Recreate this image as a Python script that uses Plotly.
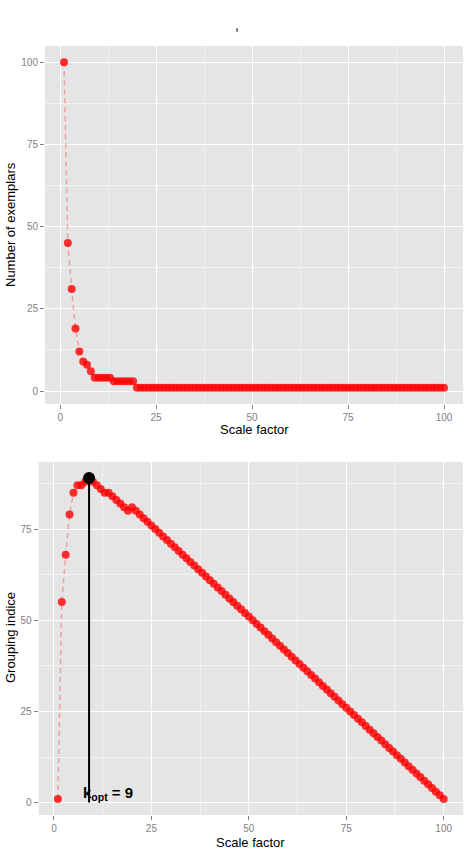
import plotly.graph_objects as go

scale_factor = list(range(1, 101))

exemplars = [100, 45, 31, 19, 12, 9, 8, 6, 4, 4, 4, 4, 4, 3, 3, 3, 3, 3, 3,
             1, 1, 1, 1, 1, 1, 1, 1, 1, 1, 1, 1, 1, 1, 1, 1, 1, 1, 1, 1,
             1, 1, 1, 1, 1, 1, 1, 1, 1, 1, 1, 1, 1, 1, 1, 1, 1, 1, 1, 1,
             1, 1, 1, 1, 1, 1, 1, 1, 1, 1, 1, 1, 1, 1, 1, 1, 1, 1, 1, 1,
             1, 1, 1, 1, 1, 1, 1, 1, 1, 1, 1, 1, 1, 1, 1, 1, 1, 1, 1, 1,
             1]

grouping = [1, 55, 68, 79, 85, 87, 87, 88, 89, 88, 87, 86, 85, 85, 84, 83, 82, 81, 80,
            81, 80, 79, 78, 77, 76, 75, 74, 73, 72, 71, 70, 69, 68, 67, 66, 65, 64, 63, 62,
            61, 60, 59, 58, 57, 56, 55, 54, 53, 52, 51, 50, 49, 48, 47, 46, 45, 44, 43, 42,
            41, 40, 39, 38, 37, 36, 35, 34, 33, 32, 31, 30, 29, 28, 27, 26, 25, 24, 23, 22,
            21, 20, 19, 18, 17, 16, 15, 14, 13, 12, 11, 10, 9, 8, 7, 6, 5, 4, 3, 2, 1]

x_ticks = [0, 25, 50, 75, 100]
y1_ticks = [0, 25, 50, 75, 100]
y2_ticks = [0, 25, 50, 75]

i_opt = grouping.index(max(grouping))
k_opt = scale_factor[i_opt]
g_opt = grouping[i_opt]

W, H = 475, 849
FONT = "Liberation Sans, Arial, sans-serif"
RED = "rgba(255,0,0,0.8)"
LINE = "rgba(255,0,0,0.3)"

fig = go.Figure()

for xa, ya, yv in (("x", "y", exemplars), ("x2", "y2", grouping)):
    fig.add_trace(go.Scatter(x=scale_factor, y=yv, mode="lines", xaxis=xa, yaxis=ya,
                             line=dict(color=LINE, width=1.5, dash="5px,4px"),
                             hoverinfo="skip", showlegend=False))
    fig.add_trace(go.Scatter(x=scale_factor, y=yv, mode="markers", xaxis=xa, yaxis=ya,
                             marker=dict(color=RED, size=8, line=dict(width=0)),
                             showlegend=False))

fig.add_trace(go.Scatter(x=[k_opt, k_opt], y=[0, g_opt], mode="lines", xaxis="x2", yaxis="y2",
                         line=dict(color="black", width=2), showlegend=False))
fig.add_trace(go.Scatter(x=[k_opt], y=[g_opt], mode="markers", xaxis="x2", yaxis="y2",
                         marker=dict(color="black", size=12), showlegend=False))


def px_x(p):
    return p / W


def px_y(p):
    return 1 - p / H


axis_common = dict(
    showgrid=True, gridcolor="white", gridwidth=1.2, zeroline=False, showline=False,
    ticks="outside", ticklen=4, tickcolor="#7F7F7F", tickwidth=1,
    tickfont=dict(family=FONT, size=10, color="#7F7F7F"),
    minor=dict(showgrid=True, gridcolor="#F2F2F2", gridwidth=0.6, dtick=12.5, tick0=0, ticks=""),
)

fig.update_layout(
    width=W, height=H,
    margin=dict(l=0, r=0, t=0, b=0),
    paper_bgcolor="white",
    plot_bgcolor="#E5E5E5",
    font=dict(family=FONT),
    xaxis=dict(domain=[px_x(45), px_x(463)], range=[-3.95, 104.95], tickvals=x_ticks,
               anchor="y", **axis_common),
    yaxis=dict(domain=[px_y(404), px_y(46)], range=[-3.95, 104.95], tickvals=y1_ticks,
               anchor="x", **axis_common),
    xaxis2=dict(domain=[px_x(38.6), px_x(463)], range=[-3.95, 104.95], tickvals=x_ticks,
                anchor="y2", **axis_common),
    yaxis2=dict(domain=[px_y(815), px_y(462)], range=[-3.4, 93.4], tickvals=y2_ticks,
                anchor="x2", **axis_common),
)

ann = [
    dict(text=",", x=px_x(237), y=px_y(25), xref="paper", yref="paper", showarrow=False,
         font=dict(family=FONT, size=14, color="black"), xanchor="center", yanchor="middle"),
    dict(text="Scale factor", x=px_x(254), y=px_y(429), xref="paper", yref="paper",
         showarrow=False, font=dict(family=FONT, size=13, color="black"),
         xanchor="center", yanchor="middle"),
    dict(text="Scale factor", x=px_x(251), y=px_y(842), xref="paper", yref="paper",
         showarrow=False, font=dict(family=FONT, size=13, color="black"),
         xanchor="center", yanchor="middle"),
    dict(text="Number of exemplars", x=px_x(10), y=px_y(225), xref="paper", yref="paper",
         showarrow=False, textangle=-90, font=dict(family=FONT, size=13, color="black"),
         xanchor="center", yanchor="middle"),
    dict(text="Grouping indice", x=px_x(10), y=px_y(638), xref="paper", yref="paper",
         showarrow=False, textangle=-90, font=dict(family=FONT, size=13, color="black"),
         xanchor="center", yanchor="middle"),
    dict(text="<b>k<sub>opt</sub> = " + str(k_opt) + "</b>", x=k_opt - 2, y=2.5, xref="x2", yref="y2",
         showarrow=False, font=dict(family=FONT, size=15, color="black"),
         xanchor="left", yanchor="middle"),
]
fig.update_layout(annotations=ann)

fig.write_html("out.html")
